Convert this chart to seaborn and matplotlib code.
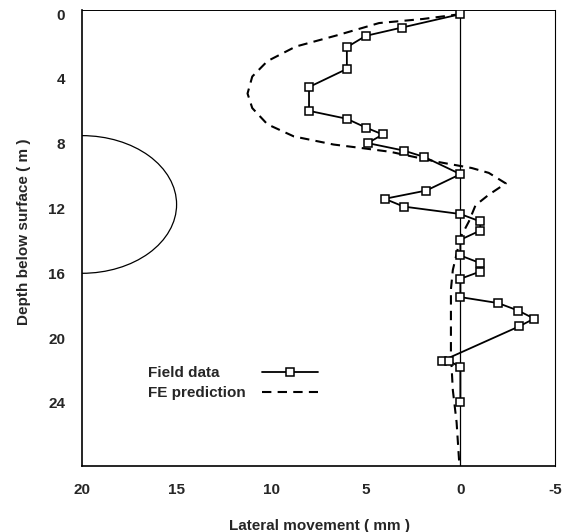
import numpy as np
import pandas as pd
import seaborn as sns
import matplotlib.pyplot as plt
from matplotlib.patches import Ellipse
from matplotlib.lines import Line2D
from matplotlib.ticker import MultipleLocator, FuncFormatter

# 实测数据 (lateral movement mm, depth m)
field_x = [0, 3.1, 5.0, 6.0, 6.0, 8.0, 8.0, 6.0, 5.0, 4.1, 4.9, 3.0, 1.9, 0,
           1.8, 4.0, 3.0, 0, -1.05, -1.05, 0, 0, -1.05, -1.05, 0, 0,
           -2.0, -3.05, -3.9, -3.1, 0.95, 0.6, 0, 0]
field_y = [0, 0.83, 1.34, 2.04, 3.38, 4.5, 5.97, 6.46, 7.0, 7.43, 7.96, 8.42, 8.82, 9.88,
           10.89, 11.4, 11.88, 12.34, 12.8, 13.36, 13.93, 14.9, 15.37, 15.89, 16.34, 17.47,
           17.84, 18.3, 18.8, 19.28, 21.4, 21.4, 21.8, 23.93]

# 有限元预测
fe_x = [0.0, 2.0, 4.3, 6.5, 8.7, 10.2, 11.0, 11.25, 11.0, 10.2, 8.8, 6.7, 5.2, 3.7,
        1.3, -0.6, -1.5, -2.4, -1.5, -0.8, -0.45, 0.0, 0.4, 0.5, 0.5, 0.5, 0.4, 0.2, 0.05]
fe_y = [0.0, 0.3, 0.55, 1.3, 2.0, 2.9, 3.85, 4.9, 5.8, 6.8, 7.55, 8.05, 8.27, 8.5,
        9.1, 9.5, 9.8, 10.45, 11.15, 11.8, 12.8, 13.8, 15.8, 17.0, 19.0, 21.0, 23.2, 25.2, 27.9]

# 隧道轮廓: 圆心, 宽, 高
tunnel_center = (20, 11.75)
tunnel_w = 10
tunnel_h = 8.5

sns.set_style('white')
plt.rcParams['font.family'] = ['Liberation Sans', 'DejaVu Sans']
plt.rcParams['font.weight'] = 'bold'
plt.rcParams['font.size'] = 11

fig = plt.figure(figsize=(5.67, 5.32), dpi=100)
ax = fig.add_axes([0.1446, 0.124, 0.8342, 0.857])

field = pd.DataFrame({'x': field_x, 'y': field_y})
fe = pd.DataFrame({'x': fe_x, 'y': fe_y})

ax.axvline(0, color='black', lw=0.9, zorder=1)
ax.add_patch(Ellipse(tunnel_center, tunnel_w, tunnel_h, fill=False, ec='black', lw=0.9))

sns.lineplot(data=fe, x='x', y='y', sort=False, estimator=None, color='black',
             lw=1.5, linestyle=(0, (4.5, 3)), ax=ax, zorder=2)
sns.lineplot(data=field, x='x', y='y', sort=False, estimator=None, color='black',
             lw=1.3, marker='s', markersize=6, markerfacecolor='white',
             markeredgecolor='black', markeredgewidth=1.1, ax=ax, zorder=3)

ax.set_xlim(20, -5)
ax.set_ylim(27.9, -0.25)

ax.xaxis.set_major_locator(MultipleLocator(5))
ax.xaxis.set_minor_locator(MultipleLocator(1))
ax.xaxis.set_major_formatter(FuncFormatter(lambda v, p: f'{int(round(v))}'))
ax.yaxis.set_major_locator(MultipleLocator(2))
ax.yaxis.set_minor_locator(MultipleLocator(1))
ax.yaxis.set_major_formatter(FuncFormatter(lambda v, p: f'{int(round(v))}' if round(v) % 4 == 0 else ''))

ax.tick_params(axis='both', which='major', direction='in', length=8, width=1, color='black')
ax.tick_params(axis='both', which='minor', direction='in', length=5, width=0.9, color='black')
ax.tick_params(axis='y', which='major', pad=12)
ax.tick_params(axis='x', which='major', pad=12)
ax.tick_params(top=False, right=False, which='both')

for side, w in [('left', 1.2), ('bottom', 1.2), ('right', 0.8), ('top', 0.7)]:
    ax.spines[side].set_visible(True)
    ax.spines[side].set_color('black')
    ax.spines[side].set_linewidth(w)

ax.set_xlabel('Lateral movement ( mm )', fontweight='bold')
ax.set_ylabel('Depth below surface ( m )', fontweight='bold')
ax.xaxis.set_label_coords(0.503, -0.116)
ax.yaxis.set_label_coords(-0.108, 0.513)

handles = [
    Line2D([], [], color='black', lw=1.3, marker='s', markersize=6,
           markerfacecolor='white', markeredgecolor='black', markeredgewidth=1.1),
    Line2D([], [], color='black', lw=1.5, linestyle=(0, (4.5, 3))),
]
leg = ax.legend(handles, ['Field data', 'FE prediction'], loc='upper left',
                bbox_to_anchor=(0.1395, 0.219), frameon=False, markerfirst=False,
                handlelength=3.66, handletextpad=1.05, labelspacing=0.4, borderpad=0,
                borderaxespad=0)

# 文字左对齐, 图例线条对齐
fig.canvas.draw()
col = leg._legend_handle_box.get_children()[0]
col.align = 'left'
widths = [t.get_window_extent().width for t in leg.get_texts()]
for row, w in zip(col.get_children(), widths):
    row.sep += (max(widths) - w) * 72 / fig.dpi

fig.savefig('out.png', dpi=100)
